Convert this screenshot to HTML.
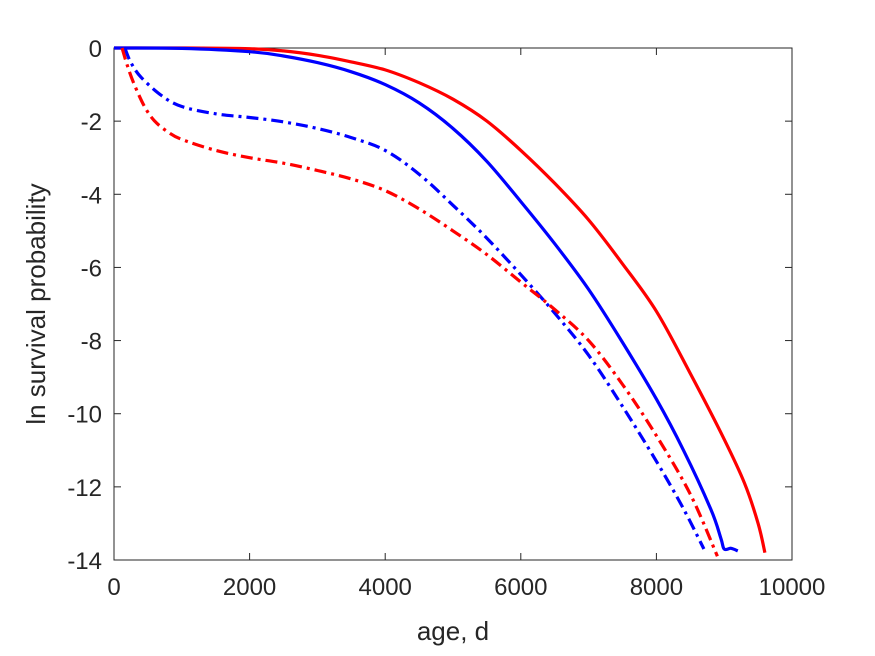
<!DOCTYPE html>
<html><head><meta charset="utf-8"><style>
body{margin:0;background:#fff;}
svg{display:block;font-family:"Liberation Sans",sans-serif;}
</style></head><body>
<svg id="chart" width="875" height="656" viewBox="0 0 875 656">
<rect x="0" y="0" width="875" height="656" fill="#fff"/>
<g id="plot"></g>
</svg>
<script>
const xTicks=[0,2000,4000,6000,8000,10000];
const yTicks=[0,-2,-4,-6,-8,-10,-12,-14];
const redSolidX=[0,1000,2000,2500,3000,3500,4000,4500,5000,5500,6000,6500,7000,7500,8000,8500,9000,9300,9500,9600];
const redSolidY=[0,0,-0.02,-0.08,-0.2,-0.38,-0.6,-0.95,-1.4,-2.0,-2.8,-3.7,-4.7,-5.9,-7.2,-8.9,-10.7,-11.9,-13.0,-13.8];
const blueSolidX=[0,1000,2000,2500,3000,3500,4000,4500,5000,5500,6000,6500,7000,7500,8000,8400,8800,8950,9000,9100,9200];
const blueSolidY=[0,-0.01,-0.1,-0.22,-0.4,-0.65,-1.0,-1.5,-2.2,-3.1,-4.2,-5.35,-6.6,-8.05,-9.6,-11.0,-12.6,-13.4,-13.7,-13.68,-13.75];
const blueDashX=[160,250,400,700,1000,1500,2000,2500,3000,3500,4000,4500,5000,5500,6000,6500,7000,7500,8000,8400,8700];
const blueDashY=[0,-0.4,-0.8,-1.3,-1.6,-1.8,-1.9,-2.02,-2.2,-2.45,-2.8,-3.45,-4.3,-5.2,-6.2,-7.25,-8.4,-9.8,-11.3,-12.6,-13.7];
const redDashX=[120,200,300,450,600,800,1000,1500,2000,2500,3000,3500,4000,4500,5000,5500,6000,6500,7000,7500,8000,8500,8900];
const redDashY=[0,-0.5,-1.0,-1.6,-2.0,-2.3,-2.5,-2.8,-3.0,-3.15,-3.35,-3.58,-3.9,-4.4,-5.0,-5.65,-6.4,-7.15,-8.0,-9.2,-10.6,-12.2,-13.9];
const L=114,R=792,T=48,B=560;
const sx=v=>L+(v-0)/10000*(R-L);
const sy=v=>T+(0-v)/14*(B-T);
const ns="http://www.w3.org/2000/svg";
const g=document.getElementById('plot');
function mk(t,a){const e=document.createElementNS(ns,t);for(const k in a)e.setAttribute(k,a[k]);g.appendChild(e);return e;}
const box=mk('rect',{x:L,y:T,width:R-L,height:B-T,fill:'none',stroke:'#262626','stroke-width':1});


xTicks.forEach(v=>{
  const t=mk('line',{x1:sx(v),x2:sx(v),y1:B,y2:B-7,stroke:'#262626'});
  
  
  const t2=mk('line',{x1:sx(v),x2:sx(v),y1:T,y2:T+7,stroke:'#262626'});
  
  
  const l=mk('text',{x:sx(v),y:B+35,'text-anchor':'middle','font-size':24,fill:'#262626'});
  l.textContent=v;
  
  
});
yTicks.forEach(v=>{
  const t=mk('line',{x1:L,x2:L+7,y1:sy(v),y2:sy(v),stroke:'#262626'});
  
  
  const t2=mk('line',{x1:R,x2:R-7,y1:sy(v),y2:sy(v),stroke:'#262626'});
  
  
  const l=mk('text',{x:L-12,y:sy(v)+9,'text-anchor':'end','font-size':24,fill:'#262626'});
  l.textContent=v;
  
  
});
function line(xs,ys,color,dash,name){
  const P=xs.map((x,i)=>[sx(x),sy(ys[i])]);
  let d='M'+P[0][0].toFixed(1)+','+P[0][1].toFixed(1);
  for(let i=0;i<P.length-1;i++){
    const p0=P[Math.max(0,i-1)],p1=P[i],p2=P[i+1],p3=P[Math.min(P.length-1,i+2)];
    const c1=[p1[0]+(p2[0]-p0[0])/6,p1[1]+(p2[1]-p0[1])/6];
    const c2=[p2[0]-(p3[0]-p1[0])/6,p2[1]-(p3[1]-p1[1])/6];
    d+=' C'+c1.map(v=>v.toFixed(1)).join(',')+' '+c2.map(v=>v.toFixed(1)).join(',')+' '+p2.map(v=>v.toFixed(1)).join(',');
  }
  const p=mk('path',{d:d,fill:'none',stroke:color,'stroke-width':3.2,'stroke-dasharray':dash,'stroke-linejoin':'round'});
  
  
}
line(redSolidX,redSolidY,'#ff0000','none','red-solid-line');
line(blueSolidX,blueSolidY,'#0000ff','none','blue-solid-line');
line(blueDashX,blueDashY,'#0000ff','12,5,3,5','blue-dashdot-line');
line(redDashX,redDashY,'#ff0000','12,5,3,5','red-dashdot-line');
const xt=mk('text',{x:(L+R)/2,y:640,'text-anchor':'middle','font-size':26,fill:'#262626'});
xt.textContent='age, d';


const yt=mk('text',{x:0,y:0,'text-anchor':'middle','font-size':26,fill:'#262626',transform:'translate(45,'+(T+B)/2+') rotate(-90)'});
yt.textContent='ln survival probability';


</script>
</body></html>
